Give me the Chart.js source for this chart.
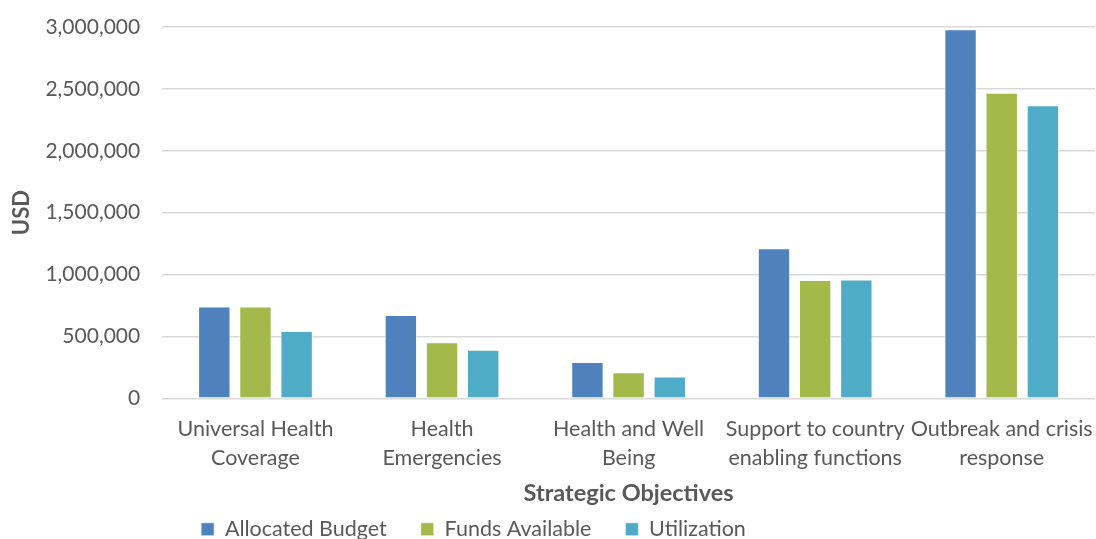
<!DOCTYPE html>
<html>
<head>
<meta charset="utf-8">
<script src="https://cdn.jsdelivr.net/npm/chart.js@4/dist/chart.umd.min.js"></script>
<style>
  html, body { margin: 0; padding: 0; background: #fff; }
  #wrap { width: 1096px; height: 539px; }
</style>
</head>
<body>
<div id="wrap"><canvas id="budgetChart" width="1096" height="539"></canvas></div>
<script>
// chart values
const objectives = [
  ['Universal Health', 'Coverage'],
  ['Health', 'Emergencies'],
  ['Health and Well', 'Being'],
  ['Support to country', 'enabling functions'],
  ['Outbreak and crisis', 'response']
];
const allocatedBudget = [742000, 672000, 292000, 1212000, 2982000];
const fundsAvailable = [742000, 452000, 211000, 955000, 2469000];
const utilization = [543000, 392000, 176000, 960000, 2368000];
const yTicks = [0, 500000, 1000000, 1500000, 2000000, 2500000, 3000000];

const txt = '#595959';
const fontFam = 'Lato, "Liberation Sans", sans-serif';

function ds(label, data, color) {
  return {
    label: label,
    data: data,
    backgroundColor: color,
    borderColor: 'rgba(255,255,255,0.6)',
    borderWidth: 1,
    categoryPercentage: 0.662,
    barPercentage: 0.787
  };
}

// legend in the reference sits left of the canvas centre
const shiftLegend = {
  id: 'shiftLegend',
  afterLayout(chart) {
    if (chart.legend) {
      chart.legend.left -= 76;
      chart.legend.right -= 76;
    }
  }
};

const ctx = document.getElementById('budgetChart');
new Chart(ctx, {
  type: 'bar',
  data: {
    labels: objectives,
    datasets: [
      ds('Allocated Budget', allocatedBudget, '#4f81bd'),
      ds('Funds Available', fundsAvailable, '#a5b94a'),
      ds('Utilization', utilization, '#4facc6')
    ]
  },
  plugins: [shiftLegend],
  options: {
    responsive: false,
    animation: false,
    layout: { padding: { top: 27, right: 1, left: 4, bottom: -11 } },
    plugins: {
      tooltip: { enabled: false },
      legend: {
        position: 'bottom',
        labels: {
          color: txt,
          font: { family: fontFam, size: 21.5 },
          boxWidth: 13,
          boxHeight: 13,
          padding: 34
        }
      }
    },
    scales: {
      x: {
        // last label may run to the canvas edge, as in the reference
        afterFit: axis => { axis.paddingLeft = 0; axis.paddingRight = 0; },
        grid: { display: false },
        border: { display: false },
        ticks: {
          color: txt,
          font: { family: fontFam, size: 21.5, lineHeight: 1.35 },
          maxRotation: 0,
          autoSkip: false,
          padding: 8
        },
        title: {
          display: true,
          text: 'Strategic Objectives',
          color: txt,
          font: { family: fontFam, size: 23.5, weight: 'bold' },
          padding: { top: -1, bottom: -23 }
        }
      },
      y: {
        min: 0,
        max: 3000000,
        afterBuildTicks: axis => { axis.ticks = yTicks.map(v => ({ value: v })); },
        // tick padding would otherwise also push the plot top down
        afterFit: axis => { axis.paddingTop = 0; axis.paddingBottom = 0; },
        grid: { color: '#d9d9d9', lineWidth: 1.5, drawTicks: false },
        border: { display: false },
        ticks: {
          color: txt,
          font: { family: fontFam, size: 21 },
          padding: 22,
          callback: v => v.toLocaleString('en-US')
        },
        title: {
          display: true,
          text: 'USD',
          color: txt,
          font: { family: fontFam, size: 22, weight: 'bold' },
          padding: { top: 5, bottom: -12 }
        }
      }
    }
  }
});
</script>
</body>
</html>
